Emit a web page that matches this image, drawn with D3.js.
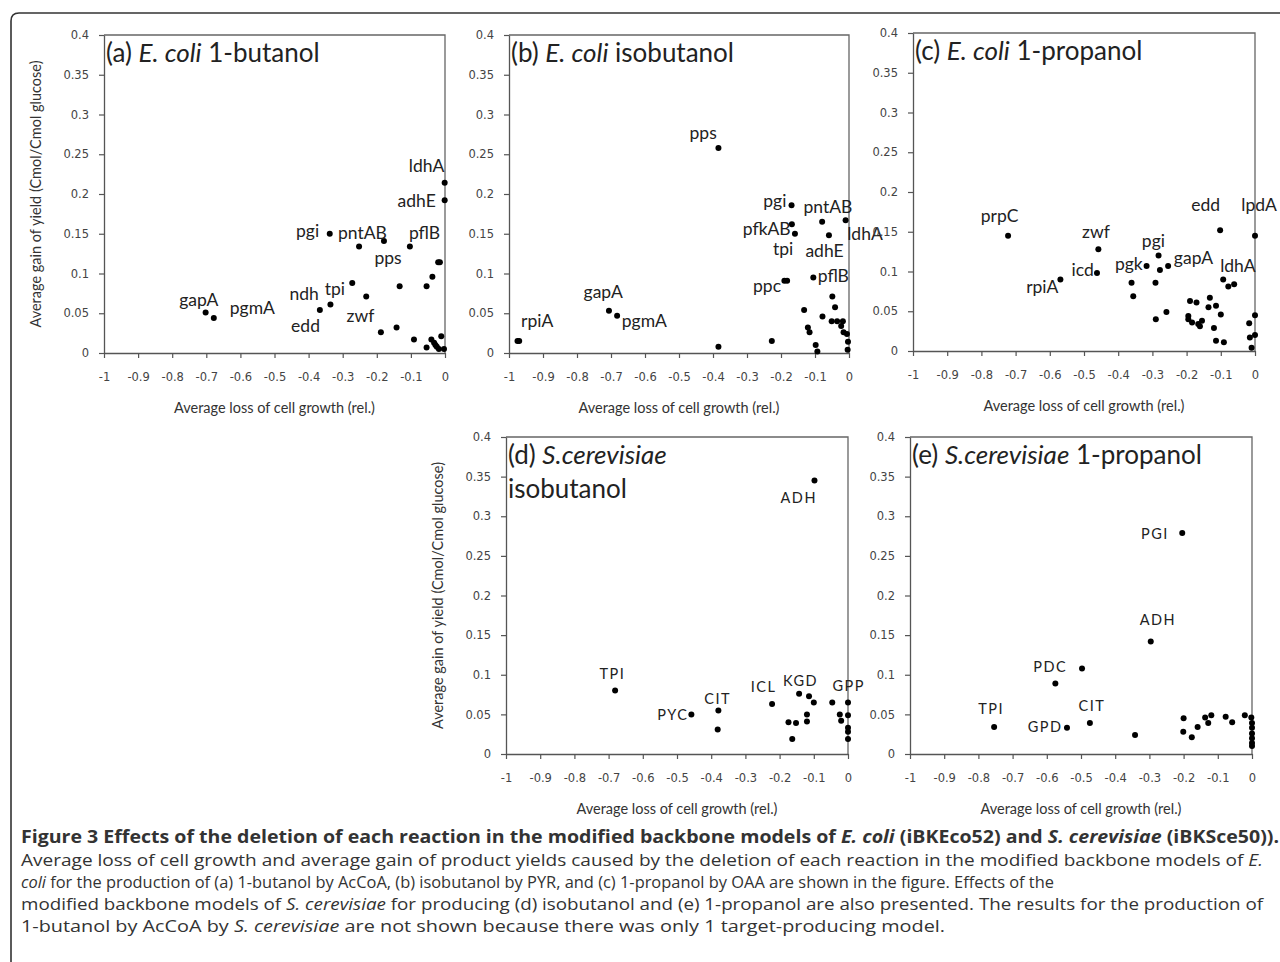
<!DOCTYPE html>
<html>
  <head>
    <meta charset="utf-8">
    <title>Figure 3</title>
    <style media="screen">
    body{margin: 0; background: #fff}
    svg text{fill: #222}
    .tick text{font-family: "DejaVu Sans"; font-size: 11.5px; fill: #444}
    .lab{font-family: Lato; font-size: 17.5px}
    .labS{font-family: Lato; font-size: 14.5px; letter-spacing: 1.5px}
    .ttl{font-family: Lato; font-size: 26px}
    .axt{font-family: Lato; font-size: 14.5px; fill: #333}
    .cap{font-family: "Open Sans"; font-size: 17px; fill: #333}
    </style>
  </head>
  <body>
    <script src="https://d3js.org/d3.v7.min.js"></script>
    <script type="text/javascript">
      var w = 1280, h = 962;

      var xTicks = [-1, -0.9, -0.8, -0.7, -0.6, -0.5, -0.4, -0.3, -0.2, -0.1, 0];
      var yTicks = [0, 0.05, 0.1, 0.15, 0.2, 0.25, 0.3, 0.35, 0.4];

      // (a) E. coli 1-butanol
      var aPoints = [[-0.001,0.214],[-0.001,0.192],[-0.338,0.150],[-0.179,0.141],[-0.252,0.134],
        [-0.103,0.134],[-0.015,0.114],[-0.020,0.114],[-0.037,0.096],[-0.054,0.084],[-0.133,0.084],
        [-0.272,0.088],[-0.231,0.071],[-0.336,0.061],[-0.367,0.054],[-0.702,0.051],[-0.678,0.044],
        [-0.188,0.026],[-0.142,0.032],[-0.091,0.017],[-0.054,0.007],[-0.040,0.017],[-0.032,0.013],
        [-0.024,0.008],[-0.018,0.005],[-0.011,0.021],[-0.003,0.005],[-0.028,0.010]];
      var aLabels = [["ldhA",-0.054,0.236],["adhE",-0.083,0.192],["pgi",-0.403,0.154],
        ["pntAB",-0.242,0.152],["pflB",-0.060,0.152],["pps",-0.167,0.120],["ndh",-0.413,0.075],
        ["tpi",-0.323,0.081],["gapA",-0.722,0.067],["pgmA",-0.565,0.057],["zwf",-0.248,0.047],
        ["edd",-0.409,0.035]];

      // (b) E. coli isobutanol
      var bPoints = [[-0.384,0.258],[-0.169,0.186],[-0.079,0.165],[-0.010,0.167],[-0.168,0.162],
        [-0.159,0.150],[-0.059,0.148],[-0.105,0.095],[-0.190,0.091],[-0.182,0.091],[-0.049,0.071],
        [-0.041,0.0575],[-0.132,0.054],[-0.078,0.046],[-0.051,0.040],[-0.035,0.040],[-0.018,0.040],
        [-0.121,0.032],[-0.116,0.026],[-0.023,0.034],[-0.016,0.026],[-0.006,0.024],[-0.003,0.014],
        [-0.004,0.004],[-0.098,0.010],[-0.093,0.002],[-0.227,0.015],[-0.384,0.008],[-0.975,0.015],
        [-0.970,0.015],[-0.706,0.053],[-0.682,0.047]];
      var bLabels = [["pps",-0.429,0.277],["pgi",-0.218,0.192],["pntAB",-0.062,0.184],
        ["pfkAB",-0.242,0.157],["ldhA",0.047,0.150],["tpi",-0.194,0.131],["adhE",-0.072,0.129],
        ["pflB",-0.046,0.097],["ppc",-0.241,0.085],["gapA",-0.723,0.077],["pgmA",-0.602,0.041],
        ["rpiA",-0.917,0.041]];

      // (c) E. coli 1-propanol
      var cPoints = [[-0.722,0.145],[0,0.145],[-0.102,0.152],[-0.458,0.128],[-0.282,0.120],
        [-0.462,0.098],[-0.569,0.090],[-0.317,0.107],[-0.254,0.107],[-0.278,0.102],[-0.093,0.090],
        [-0.078,0.081],[-0.061,0.084],[-0.361,0.086],[-0.356,0.069],[-0.291,0.086],[-0.132,0.067],
        [-0.190,0.063],[-0.171,0.061],[-0.136,0.055],[-0.114,0.057],[-0.259,0.049],[-0.100,0.046],
        [-0.290,0.040],[-0.195,0.044],[-0.195,0.040],[-0.184,0.036],[-0.166,0.034],[-0.155,0.038],
        [-0.161,0.031],[-0.120,0.029],[-0.114,0.013],[-0.091,0.011],[-0.017,0.035],[0,0.045],
        [-0.015,0.017],[0,0.020],[-0.010,0.004]];
      var cLabels = [["prpC",-0.747,0.171],["lpdA",0.012,0.184],["edd",-0.144,0.184],
        ["zwf",-0.465,0.150],["pgi",-0.297,0.139],["icd",-0.504,0.103],["rpiA",-0.622,0.081],
        ["pgk",-0.369,0.110],["gapA",-0.180,0.118],["ldhA",-0.050,0.107]];

      // (d) S. cerevisiae isobutanol
      var dPoints = [[-0.098,0.345],[-0.681,0.080],[-0.458,0.050],[-0.379,0.055],[-0.381,0.031],
        [-0.222,0.063],[-0.143,0.076],[-0.114,0.073],[-0.100,0.065],[-0.046,0.065],[0,0.065],
        [-0.174,0.040],[-0.152,0.039],[-0.163,0.019],[-0.120,0.050],[-0.120,0.041],[-0.024,0.050],
        [-0.020,0.042],[0,0.049],[0,0.033],[0,0.028],[0,0.019]];
      var dLabels = [["ADH",-0.144,0.324],["TPI",-0.689,0.101],["PYC",-0.512,0.050],
        ["CIT",-0.381,0.0705],["ICL",-0.247,0.085],["KGD",-0.139,0.093],["GPP",0.002,0.087]];

      // (e) S. cerevisiae 1-propanol
      var ePoints = [[-0.204,0.279],[-0.296,0.142],[-0.497,0.108],[-0.575,0.089],[-0.754,0.034],
        [-0.541,0.033],[-0.474,0.039],[-0.342,0.024],[-0.200,0.045],[-0.201,0.028],[-0.176,0.021],
        [-0.159,0.034],[-0.137,0.046],[-0.128,0.039],[-0.119,0.049],[-0.077,0.047],[-0.058,0.040],
        [-0.021,0.049],[-0.002,0.046],[0,0.039],[0,0.033],[0,0.026],[0,0.020],[0,0.014],[0,0.010]];
      var eLabels = [["PGI",-0.284,0.278],["ADH",-0.275,0.170],["PDC",-0.590,0.110],
        ["TPI",-0.763,0.057],["GPD",-0.605,0.035],["CIT",-0.468,0.061]];

      var panels = [
        {pts: aPoints, labs: aLabels, box: [104, 445, 35, 353], cls: "lab", ytitle: true,
          title: [["(a) ", 0], ["E. coli", 1], [" 1-butanol", 0]], title2: null},
        {pts: bPoints, labs: bLabels, box: [509, 849, 35, 353], cls: "lab",
          title: [["(b) ", 0], ["E. coli", 1], [" isobutanol", 0]], title2: null},
        {pts: cPoints, labs: cLabels, box: [913, 1255, 33, 351], cls: "lab",
          title: [["(c) ", 0], ["E. coli", 1], [" 1-propanol", 0]], title2: null},
        {pts: dPoints, labs: dLabels, box: [506, 848, 437, 754], cls: "labS", ytitle: true,
          title: [["(d) ", 0], ["S.cerevisiae", 1]], title2: "isobutanol"},
        {pts: ePoints, labs: eLabels, box: [910, 1252, 437, 754], cls: "labS",
          title: [["(e) ", 0], ["S.cerevisiae", 1], [" 1-propanol", 0]], title2: null}
      ];

      var svg = d3.select('body').append('svg')
        .attr('width', w)
        .attr('height', h)

      // outer frame with rounded corner
      svg.append('path')
        .attr('d', 'M11,' + h + ' L11,21 Q11,13 19,13 L' + w + ',13')
        .attr('fill', 'none').attr('stroke', '#333').attr('stroke-width', 1.6)

      panels.forEach(function(p){
        var x = d3.scaleLinear().domain([-1, 0]).range([p.box[0], p.box[1]]);
        var y = d3.scaleLinear().domain([0, 0.4]).range([p.box[3], p.box[2]]);
        var g = svg.append('g');

        // plot border (top/right)
        g.append('path')
          .attr('d', 'M' + x(-1) + ',' + y(0.4) + 'H' + x(0) + 'V' + y(0))
          .attr('fill', 'none').attr('stroke', '#666').attr('stroke-width', 1.3)

        var xa = g.append('g').attr('transform', 'translate(0,' + y(0) + ')')
          .call(d3.axisBottom(x).tickValues(xTicks).tickSize(5).tickPadding(15)
            .tickSizeOuter(0).tickFormat(function(d){ return String(+d.toFixed(1)) }));
        var ya = g.append('g').attr('transform', 'translate(' + x(-1) + ',0)')
          .call(d3.axisLeft(y).tickValues(yTicks).tickSize(5).tickPadding(10)
            .tickSizeOuter(0).tickFormat(function(d){ return String(+d.toFixed(2)) }));
        [xa, ya].forEach(function(a){
          a.select('.domain').attr('stroke', '#555').attr('stroke-width', 1.3);
          a.selectAll('.tick line').attr('stroke', '#555').attr('stroke-width', 1.2);
        });

        g.append('text').attr('class', 'axt')
          .attr('x', (x(-1) + x(0)) / 2).attr('y', y(0) + 60)
          .attr('text-anchor', 'middle')
          .text('Average loss of cell growth (rel.)')

        if (p.ytitle) {
          g.append('text').attr('class', 'axt')
            .attr('transform', 'translate(' + (x(-1) - 63) + ',' + ((y(0) + y(0.4)) / 2) + ') rotate(-90)')
            .attr('text-anchor', 'middle')
            .text('Average gain of yield (Cmol/Cmol glucose)')
        }

        var t = g.append('text').attr('class', 'ttl')
          .attr('x', x(-1) + 2).attr('y', y(0.4) + 27)
        t.selectAll('tspan').data(p.title).enter().append('tspan')
          .attr('font-style', function(d){ return d[1] ? 'italic' : null })
          .text(function(d){ return d[0] })
        if (p.title2) {
          g.append('text').attr('class', 'ttl')
            .attr('x', x(-1) + 2).attr('y', y(0.4) + 61).text(p.title2)
        }

        g.selectAll('circle').data(p.pts).enter().append('circle')
          .attr('cx', function(d){ return x(d[0]) })
          .attr('cy', function(d){ return y(d[1]) })
          .attr('r', 3).attr('fill', '#000')

        g.selectAll('text.pl').data(p.labs).enter().append('text')
          .attr('class', 'pl ' + p.cls)
          .attr('x', function(d){ return x(d[1]) })
          .attr('y', function(d){ return y(d[2]) })
          .attr('text-anchor', 'middle')
          .attr('dominant-baseline', 'central')
          .text(function(d){ return d[0] })
      });

      // caption
      var capLines = [
        {y: 843, len: 1258, bold: true, parts: [["Figure 3 Effects of the deletion of each reaction in the modified backbone models of ", 0], ["E. coli", 1], [" (iBKEco52) and ", 0], ["S. cerevisiae", 1], [" (iBKSce50)).", 0]]},
        {y: 866, len: 1242, parts: [["Average loss of cell growth and average gain of product yields caused by the deletion of each reaction in the modified backbone models of ", 0], ["E.", 1]]},
        {y: 888, len: 1033, parts: [["coli", 1], [" for the production of (a) 1-butanol by AcCoA, (b) isobutanol by PYR, and (c) 1-propanol by OAA are shown in the figure. Effects of the", 0]]},
        {y: 910, len: 1242, parts: [["modified backbone models of ", 0], ["S. cerevisiae", 1], [" for producing (d) isobutanol and (e) 1-propanol are also presented. The results for the production of", 0]]},
        {y: 932, len: 924, parts: [["1-butanol by AcCoA by ", 0], ["S. cerevisiae", 1], [" are not shown because there was only 1 target-producing model.", 0]]}
      ];
      capLines.forEach(function(l){
        var t = svg.append('text').attr('class', 'cap')
          .attr('x', 21).attr('y', l.y)
          .attr('font-weight', l.bold ? 'bold' : null)
          .attr('textLength', l.len).attr('lengthAdjust', 'spacingAndGlyphs')
        t.selectAll('tspan').data(l.parts).enter().append('tspan')
          .attr('font-style', function(d){ return d[1] ? 'italic' : null })
          .text(function(d){ return d[0] })
      });
    </script>
  </body>
</html>
